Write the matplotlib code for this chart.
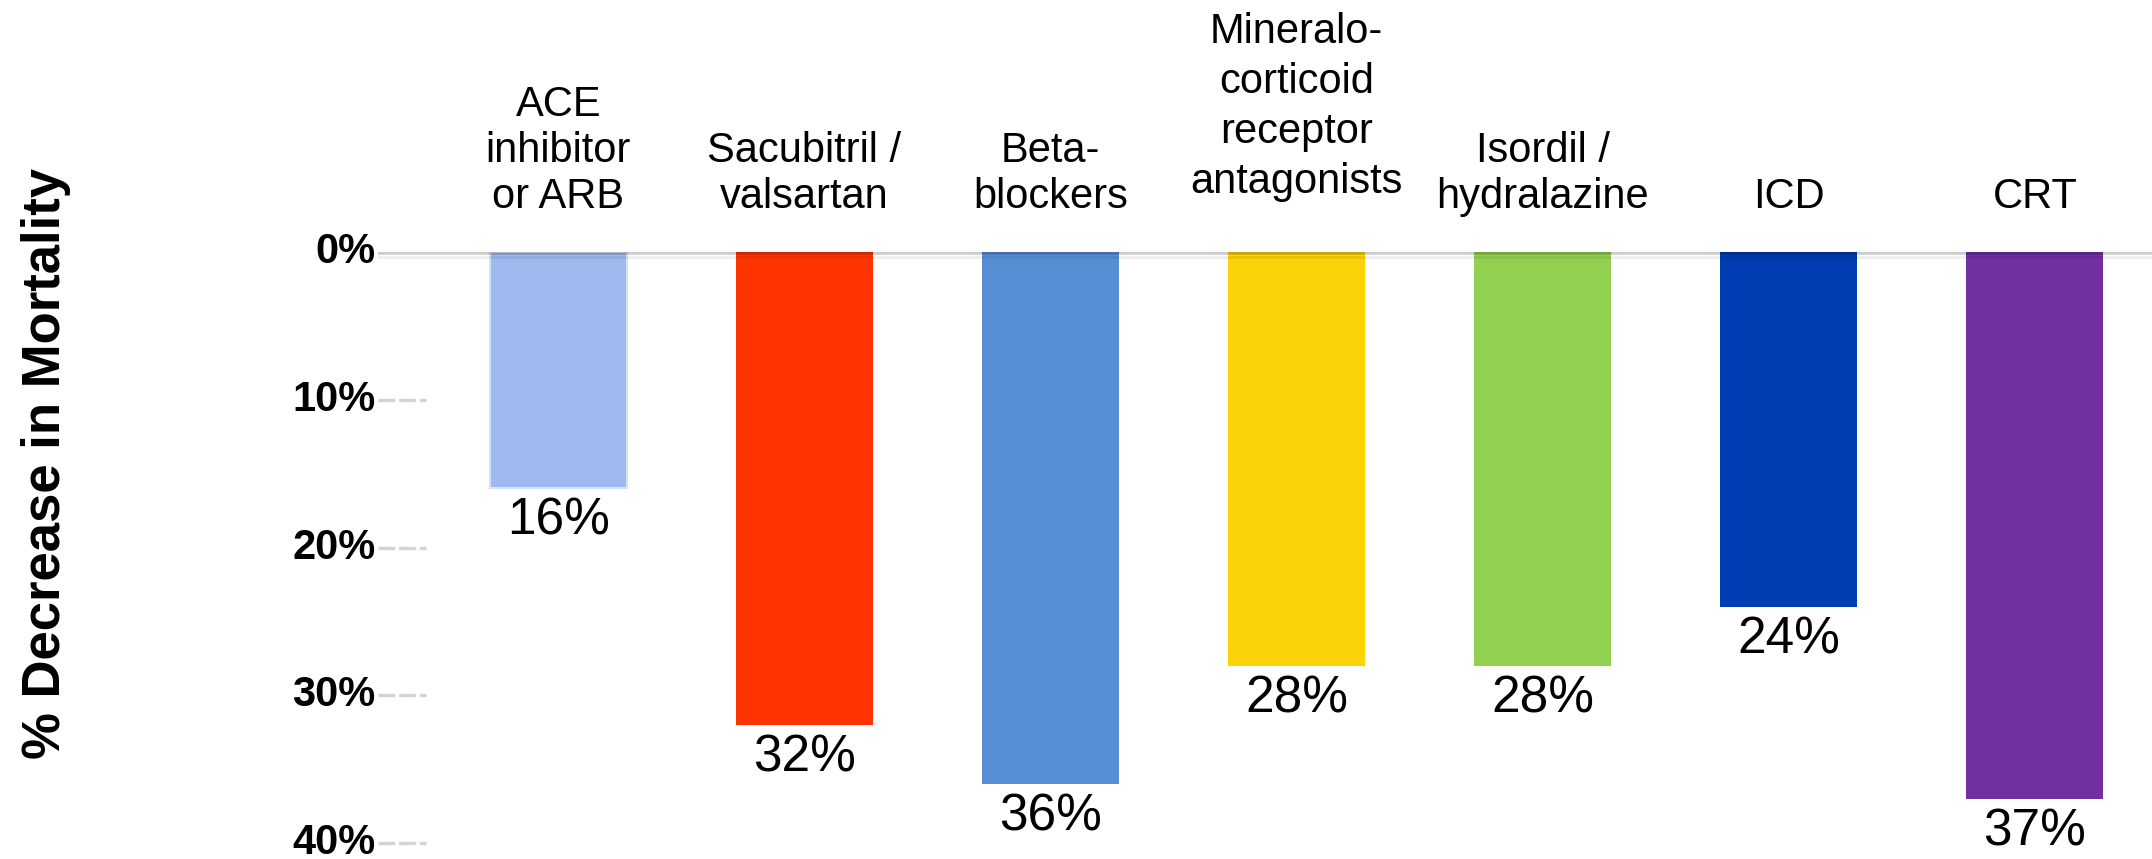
import numpy as np
import matplotlib.pyplot as plt
import matplotlib.transforms as mtransforms

plt.rcParams['font.family'] = ['Liberation Sans', 'DejaVu Sans']

# 治療ごとの死亡率低下 (%)
therapies = [
    "ACE\ninhibitor\nor ARB",
    "Sacubitril /\nvalsartan",
    "Beta-\nblockers",
    "Mineralo-\ncorticoid\nreceptor\nantagonists",
    "Isordil /\nhydralazine",
    "ICD",
    "CRT",
]
reduction = [16, 32, 36, 28, 28, 24, 37]
bar_colors = ["#9db9ee", "#ff3300", "#568ed4", "#fcd208", "#92d050", "#003db3", "#7030a0"]
y_ticks = [0, 10, 20, 30, 40]
y_tick_labels = ["0%", "10%", "20%", "30%", "40%"]

fig = plt.figure(figsize=(21.52, 8.59), dpi=100, facecolor="white")
ax = fig.add_axes([0.1757, 0.0186, 0.8243, 0.6880])

x = np.arange(len(therapies))
bars = ax.bar(x, reduction, width=0.557, color=bar_colors, zorder=2)
bars[0].set_edgecolor("#d3e4f8")
bars[0].set_linewidth(1.5)

ax.set_xlim(-0.732, 6.476)
ax.set_ylim(40, 0)

# 0% 基準線 (棒の上に半透明で重ねる)
ax.axhline(0, color="black", alpha=0.2, lw=4.0, zorder=3)
shadow = mtransforms.offset_copy(ax.transData, fig=fig, x=0, y=-4.5, units="dots")
ax.plot([-1, 7], [0, 0], color="black", alpha=0.07, lw=2.0, zorder=3,
        transform=shadow)

# 目盛り横の短い破線
stub = mtransforms.blended_transform_factory(ax.transAxes, ax.transData)
for t in y_ticks[1:]:
    ax.plot([0, 0.027], [t, t], color="#d4d4d4", lw=2.4, ls=(0, (5, 1.2)),
            transform=stub, clip_on=False, zorder=1)

ax.set_yticks(y_ticks)
ax.set_yticklabels(y_tick_labels, fontsize=30, fontweight="bold")
for lab in ax.get_yticklabels():
    lab.set_verticalalignment("center")
ax.tick_params(axis="y", length=0, pad=2)
ax.set_xticks([])
for s in ax.spines.values():
    s.set_visible(False)

# 項目名 (棒の上); 4行の項目だけ行間を広げて少し上げる
for xi, name in zip(x, therapies):
    n_lines = name.count("\n") + 1
    if n_lines > 3:
        ax.text(xi, -4.0, name, ha="center", va="baseline", fontsize=30,
                linespacing=1.32, clip_on=False)
    else:
        ax.text(xi, -2.95, name, ha="center", va="baseline", fontsize=30,
                linespacing=1.2, clip_on=False)

# 値ラベル (棒の下)
for xi, v in zip(x, reduction):
    ax.annotate(f"{v}%", (xi, v), xytext=(0, -33.5), textcoords="offset points",
                ha="center", va="baseline", fontsize=37, annotation_clip=False)

fig.text(0.0215, 0.461, "% Decrease in Mortality", rotation=90, ha="center",
         va="center", fontsize=38, fontweight="bold")

fig.savefig("out.png", dpi=100, facecolor="white")
